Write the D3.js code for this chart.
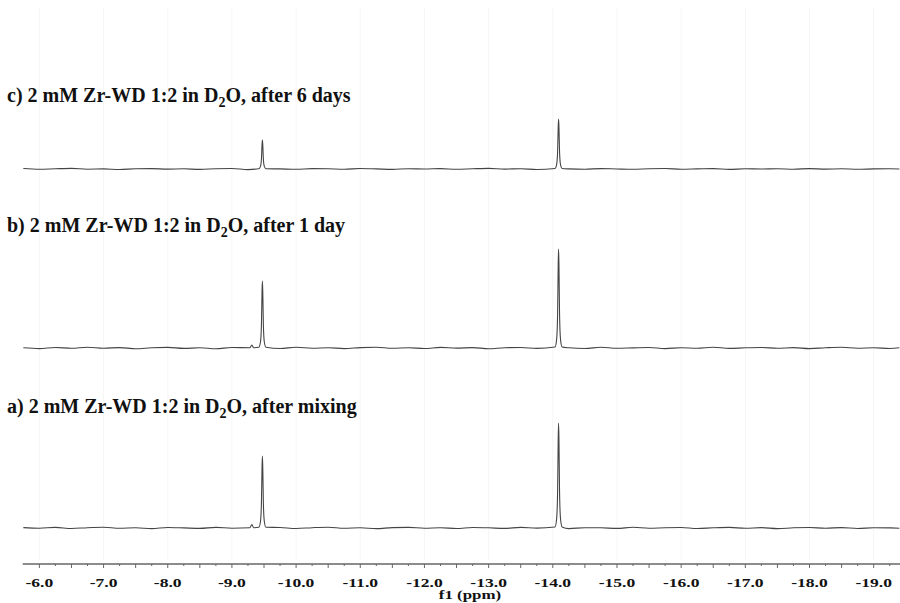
<!DOCTYPE html>
<html>
<head>
<meta charset="utf-8">
<script src="https://cdn.jsdelivr.net/npm/d3@7"></script>
<style>
  body { margin: 0; background: #fff; }
  svg { display: block; }
  text { font-family: "Liberation Serif", "Times New Roman", serif; font-weight: bold; fill: #111; }
</style>
</head>
<body>
<div id="chart"></div>
<script>
// panel titles (top to bottom on page)
const panelNames = ["c) 2 mM Zr-WD 1:2 in D", "b) 2 mM Zr-WD 1:2 in D", "a) 2 mM Zr-WD 1:2 in D"];
const panelTails = [", after 6 days", ", after 1 day", ", after mixing"];

const tickValues = [-6, -7, -8, -9, -10, -11, -12, -13, -14, -15, -16, -17, -18, -19];
const tickLabels = ["-6.0", "-7.0", "-8.0", "-9.0", "-10.0", "-11.0", "-12.0", "-13.0", "-14.0", "-15.0", "-16.0", "-17.0", "-18.0", "-19.0"];

// baseline sampling points (ppm)
const basePpm = [
    -5.75, -6.0, -6.25, -6.5, -6.75, -7.0, -7.25, -7.5,
    -7.75, -8.0, -8.25, -8.5, -8.75, -9.0, -9.25, -9.5,
    -9.75, -10.0, -10.25, -10.5, -10.75, -11.0, -11.25, -11.5,
    -11.75, -12.0, -12.25, -12.5, -12.75, -13.0, -13.25, -13.5,
    -13.75, -14.0, -14.25, -14.5, -14.75, -15.0, -15.25, -15.5,
    -15.75, -16.0, -16.25, -16.5, -16.75, -17.0, -17.25, -17.5,
    -17.75, -18.0, -18.25, -18.5, -18.75, -19.0, -19.25, -19.4
];

// baseline noise
const noiseC = [
    0.5, -0.3, 0.2, 0.6, -0.2, 0.1, -0.5, 0.3,
    0.4, -0.1, 0.2, -0.4, 0.3, 0.5, -0.6, 0.2,
    0.1, -0.3, 0.4, 0.2, -0.2, 0.5, 0.1, -0.4,
    0.3, 0.0, 0.4, -0.3, 0.2, 0.6, -0.1, 0.3,
    -0.5, 0.2, 0.1, -0.2, 0.4, 0.0, -0.3, 0.3,
    0.5, -0.2, 0.1, 0.4, -0.4, 0.2, 0.0, 0.3,
    -0.2, 0.4, -0.1, 0.2, -0.3, 0.1, 0.3, 0.0
];
const noiseB = [
    0.2, -0.6, 0.5, -0.3, 0.8, -0.2, 0.4, -0.7,
    0.3, 0.6, -0.4, 0.2, -0.8, 0.5, 0.1, 0.3,
    -0.5, 0.7, -0.2, 0.3, -0.6, 0.4, 0.8, -0.3,
    0.2, -0.5, 0.6, -0.1, 0.4, -0.7, 0.3, 0.5,
    -0.4, 0.6, 0.2, -0.5, 0.7, -0.3, 0.1, 0.5,
    -0.6, 0.3, -0.2, 0.8, -0.4, 0.2, 0.5, -0.3,
    0.4, -0.6, 0.2, 0.7, -0.2, 0.3, -0.5, 0.2
];
const noiseA = [
    0.4, -0.2, 0.6, -0.5, 0.3, 0.7, -0.3, 0.2,
    -0.6, 0.5, 0.1, -0.4, 0.6, -0.2, 0.3, 0.2,
    0.5, -0.5, 0.3, 0.8, -0.3, 0.2, -0.6, 0.4,
    0.6, -0.2, 0.3, -0.5, 0.5, 0.2, -0.4, 0.6,
    -0.1, 0.4, -0.6, 0.3, 0.2, -0.4, 0.7, -0.2,
    0.3, 0.5, -0.5, 0.2, 0.6, -0.3, 0.4, -0.6,
    0.2, 0.5, -0.2, 0.4, -0.5, 0.3, 0.1, -0.2
];

// resonance points [ppm, intensity]
const peaksC = [
    [-9.42, 0.3], [-9.445, 2.6], [-9.46, 10], [-9.469, 24], [-9.475, 29], [-9.481, 24], [-9.49, 10], [-9.505, 2.6], [-9.53, 0.3],
    [-14.035, 0.5], [-14.06, 4.5], [-14.075, 17.5], [-14.084, 41.5], [-14.09, 50], [-14.096, 41.5], [-14.105, 17.5], [-14.12, 4.5], [-14.145, 0.5]
];
const peaksB = [
    [-9.28, 0.2], [-9.31, 3], [-9.34, 0.2],
    [-9.42, 0.7], [-9.445, 6], [-9.46, 23.5], [-9.469, 55.6], [-9.475, 67], [-9.481, 55.6], [-9.49, 23.5], [-9.505, 6], [-9.53, 0.7],
    [-14.035, 1], [-14.06, 8.9], [-14.075, 34.7], [-14.084, 82], [-14.09, 99], [-14.096, 82], [-14.105, 34.7], [-14.12, 8.9], [-14.145, 1]
];
const peaksA = [
    [-9.28, 0.2], [-9.31, 3.5], [-9.34, 0.2],
    [-9.42, 0.7], [-9.445, 6.5], [-9.46, 25.2], [-9.469, 59.8], [-9.475, 72], [-9.481, 59.8], [-9.49, 25.2], [-9.505, 6.5], [-9.53, 0.7],
    [-14.035, 1], [-14.06, 9.5], [-14.075, 36.8], [-14.084, 87], [-14.09, 105], [-14.096, 87], [-14.105, 36.8], [-14.12, 9.5], [-14.145, 1]
];

const width = 900, height = 603;
const baselines = [169, 348, 528];
const titleY = [102, 232, 413];

const svg = d3.select("#chart").append("svg")
    .attr("width", width)
    .attr("height", height);

const x = d3.scaleLinear()
    .domain([-5.74, -19.41])
    .range([22.7, 900]);

// faint grid
svg.append("g")
    .selectAll("line")
    .data(tickValues)
    .enter().append("line")
    .attr("x1", d => x(d)).attr("x2", d => x(d))
    .attr("y1", 8).attr("y2", 560)
    .attr("stroke", "#f6f6f6")
    .attr("stroke-width", 1);

function buildTrace(noise, peaks) {
    const pts = basePpm.map((p, i) => [p, noise[i]])
        .filter(d => !peaks.some(q => Math.abs(q[0] - d[0]) < 0.04));
    return pts.concat(peaks).sort((a, b) => b[0] - a[0]);
}

const traces = [buildTrace(noiseC, peaksC), buildTrace(noiseB, peaksB), buildTrace(noiseA, peaksA)];

traces.forEach((trace, i) => {
    const y = d3.scaleLinear()
        .domain([0, 100])
        .range([baselines[i], baselines[i] - 100]);

    const line = d3.line()
        .x(d => x(d[0]))
        .y(d => y(d[1]))
        .curve(d3.curveMonotoneX);

    svg.append("path")
        .datum(trace)
        .attr("fill", "none")
        .attr("stroke", "#444")
        .attr("stroke-width", 1.1)
        .attr("d", line);

    // title
    const t = svg.append("text")
        .attr("x", 7)
        .attr("y", titleY[i])
        .style("font-size", "20px");
    t.append("tspan").text(panelNames[i]);
    t.append("tspan").attr("dy", 5).style("font-size", "14px").text("2");
    t.append("tspan").attr("dy", -5).text("O" + panelTails[i]);
});

// axis
const axisY = 564;
const axisG = svg.append("g").attr("transform", `translate(0,${axisY})`);

axisG.append("line")
    .attr("x1", 22.7).attr("x2", 900)
    .attr("y1", 0).attr("y2", 0)
    .attr("stroke", "#666")
    .attr("stroke-width", 1.5);

const minor = d3.range(-6, -19.5, -0.25);
axisG.selectAll(".tk")
    .data(minor)
    .enter().append("line")
    .attr("class", "tk")
    .attr("x1", d => x(d)).attr("x2", d => x(d))
    .attr("y1", 0)
    .attr("y2", d => (Math.abs(d * 2 - Math.round(d * 2)) < 1e-6) ? 4 : 2)
    .attr("stroke", "#666")
    .attr("stroke-width", 1);

axisG.selectAll(".lbl")
    .data(tickValues)
    .enter().append("text")
    .attr("class", "lbl")
    .attr("transform", d => `translate(${x(d)},23) scale(1.35,1)`)
    .attr("text-anchor", "middle")
    .style("font-size", "13px")
    .text((d, i) => tickLabels[i]);

svg.append("text")
    .attr("transform", "translate(470,599) scale(1.3,1)")
    .attr("text-anchor", "middle")
    .style("font-size", "13px")
    .text("f1 (ppm)");
</script>
</body>
</html>
